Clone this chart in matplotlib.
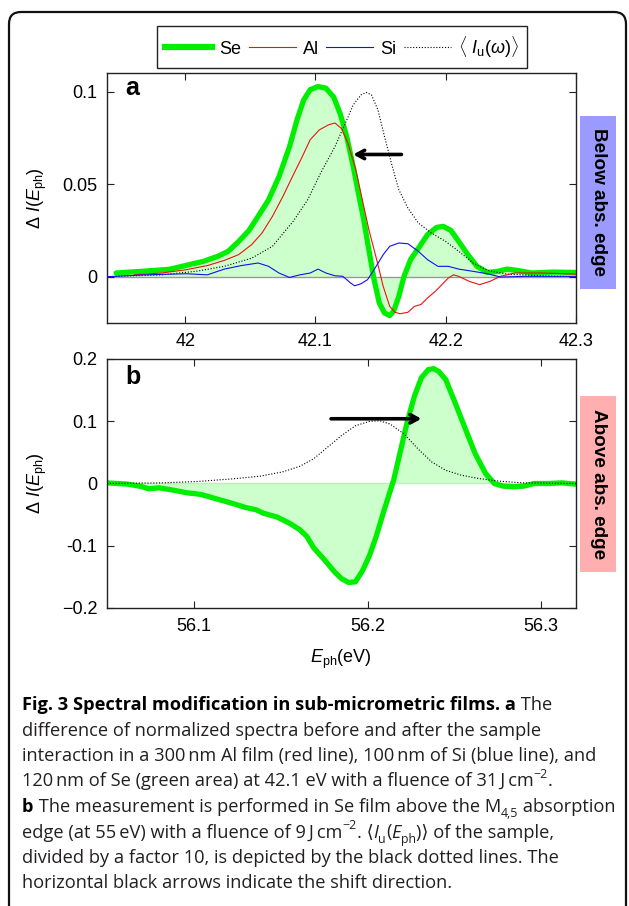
import matplotlib
matplotlib.use('Agg')
import matplotlib.pyplot as plt
from matplotlib.patches import FancyBboxPatch, Rectangle
from matplotlib.lines import Line2D
from matplotlib.transforms import IdentityTransform

plt.rcParams['font.family'] = ['Liberation Sans', 'DejaVu Sans']
plt.rcParams['mathtext.fontset'] = 'custom'
plt.rcParams['mathtext.rm'] = 'Liberation Sans'
plt.rcParams['mathtext.it'] = 'Liberation Sans:italic'
plt.rcParams['mathtext.bf'] = 'Liberation Sans:bold'

# ---------------- data: panel a (below absorption edge) ----------------
se_a_x = [41.947, 41.969, 41.988, 42.0, 42.014, 42.025, 42.033, 42.041, 42.049, 42.056,
          42.064, 42.072, 42.08, 42.086, 42.091, 42.096, 42.102, 42.108, 42.114, 42.119,
          42.124, 42.129, 42.133, 42.137, 42.141, 42.145, 42.149, 42.153, 42.157, 42.16,
          42.164, 42.168, 42.173, 42.18, 42.186, 42.193, 42.198, 42.204, 42.21, 42.217,
          42.224, 42.232, 42.24, 42.247, 42.255, 42.266, 42.282, 42.3]
se_a_y = [0.002, 0.003, 0.004, 0.006, 0.0083, 0.011, 0.0137, 0.019, 0.025, 0.0326,
          0.0415, 0.054, 0.070, 0.085, 0.0955, 0.101, 0.1027, 0.1018, 0.097, 0.088,
          0.0757, 0.0595, 0.045, 0.031, 0.0146, -0.0016, -0.0142, -0.0196, -0.021, -0.0187,
          -0.0106, 0.0002, 0.0092, 0.0164, 0.0227, 0.0266, 0.0272, 0.025, 0.019, 0.0119,
          0.0056, 0.0023, 0.0029, 0.0041, 0.0034, 0.002, 0.0025, 0.0023]

al_x = [41.961, 41.982, 42.001, 42.017, 42.03, 42.041, 42.051, 42.059, 42.067, 42.075,
        42.083, 42.09, 42.096, 42.103, 42.11, 42.115, 42.12, 42.125, 42.131, 42.136,
        42.141, 42.147, 42.152, 42.157, 42.161, 42.165, 42.171, 42.176, 42.181, 42.186,
        42.192, 42.197, 42.202, 42.206, 42.21, 42.218, 42.226, 42.234, 42.242, 42.253,
        42.274, 42.3]
al_y = [0.001, 0.002, 0.0038, 0.006, 0.0088, 0.0119, 0.0173, 0.0236, 0.0326, 0.0433,
        0.055, 0.065, 0.074, 0.0793, 0.082, 0.083, 0.080, 0.072, 0.0577, 0.0415,
        0.0254, 0.0092, -0.0052, -0.016, -0.0192, -0.020, -0.0192, -0.016, -0.015, -0.0115,
        -0.0079, -0.0043, -0.0007, 0.001, 0.0002, -0.0025, -0.0043, -0.0025, 0.0002, 0.002,
        0.002, 0.0014]

si_x = [41.94, 41.969, 42.001, 42.017, 42.03, 42.043, 42.056, 42.064, 42.072, 42.08,
        42.088, 42.096, 42.102, 42.108, 42.115, 42.121, 42.127, 42.13, 42.135, 42.14,
        42.145, 42.152, 42.157, 42.164, 42.171, 42.179, 42.186, 42.194, 42.202, 42.21,
        42.221, 42.232, 42.242, 42.261, 42.3]
si_y = [0.0, 0.001, 0.0016, 0.001, 0.0041, 0.006, 0.0074, 0.0056, 0.002, -0.0004,
        0.001, 0.002, 0.0041, 0.002, 0.0005, 0.0002, -0.0034, -0.0049, -0.0038, -0.0016,
        0.0038, 0.0119, 0.0164, 0.0182, 0.0178, 0.0137, 0.0092, 0.0056, 0.0056, 0.0041,
        0.0029, 0.0016, -0.0002, 0.0002, 0.0002]

iu_a_x = [41.94, 41.982, 42.009, 42.03, 42.051, 42.067, 42.083, 42.094, 42.104, 42.115,
          42.123, 42.129, 42.135, 42.139, 42.143, 42.148, 42.153, 42.159, 42.164, 42.171,
          42.179, 42.189, 42.2, 42.21, 42.221, 42.232, 42.247, 42.274, 42.3]
iu_a_y = [0.0, 0.001, 0.003, 0.0056, 0.010, 0.0164, 0.030, 0.0415, 0.056, 0.0703,
          0.083, 0.0928, 0.0982, 0.0995, 0.0982, 0.090, 0.0757, 0.0595, 0.047, 0.037,
          0.029, 0.0236, 0.019, 0.0137, 0.0074, 0.0034, 0.0014, 0.0005, 0.0]

# ---------------- data: panel b (above absorption edge) ----------------
se_b_x = [56.05, 56.062, 56.07, 56.074, 56.08, 56.088, 56.096, 56.104, 56.112, 56.122,
          56.13, 56.136, 56.14, 56.148, 56.155, 56.161, 56.165, 56.169, 56.175, 56.181,
          56.185, 56.189, 56.193, 56.197, 56.201, 56.205, 56.209, 56.212, 56.215, 56.219,
          56.223, 56.227, 56.231, 56.235, 56.238, 56.241, 56.245, 56.25, 56.256, 56.262,
          56.268, 56.273, 56.278, 56.284, 56.29, 56.296, 56.304, 56.312, 56.32]
se_b_y = [0.001, -0.001, -0.005, -0.0085, -0.007, -0.0106, -0.0149, -0.0175, -0.0239, -0.0318,
          -0.0387, -0.0424, -0.0477, -0.054, -0.0637, -0.0743, -0.085, -0.1034, -0.122, -0.142,
          -0.1528, -0.159, -0.158, -0.1406, -0.1167, -0.0849, -0.0477, -0.0212, 0.0053, 0.053,
          0.1008, 0.1406, 0.170, 0.183, 0.1846, 0.180, 0.167, 0.1326, 0.090, 0.0477,
          0.0159, 0.0, -0.0042, -0.0053, -0.0042, 0.0, 0.0, 0.001, -0.001]

iu_b_x = [56.05, 56.082, 56.102, 56.122, 56.138, 56.151, 56.161, 56.169, 56.177, 56.185,
          56.193, 56.201, 56.207, 56.213, 56.221, 56.229, 56.237, 56.245, 56.254, 56.264,
          56.276, 56.29, 56.32]
iu_b_y = [0.0, 0.001, 0.0032, 0.0074, 0.0117, 0.0186, 0.0276, 0.0398, 0.0584, 0.0769,
          0.0928, 0.0997, 0.1008, 0.0955, 0.0796, 0.0557, 0.0345, 0.0212, 0.0133, 0.008,
          0.0037, 0.001, 0.0]

# arrows (tail, head) in data coords
arrow_a = ((42.166, 0.066), (42.129, 0.066))
arrow_b = ((56.179, 0.104), (56.231, 0.104))

# ticks
a_xticks = [42.0, 42.1, 42.2, 42.3]
a_xlabels = ['42', '42.1', '42.2', '42.3']
a_yticks = [0.0, 0.05, 0.1]
a_ylabels = ['0', '0.05', '0.1']
b_xticks = [56.1, 56.2, 56.3]
b_xlabels = ['56.1', '56.2', '56.3']
b_yticks = [-0.2, -0.1, 0.0, 0.1, 0.2]
b_ylabels = ['\u22120.2', '-0.1', '0', '0.1', '0.2']

legend_labels = ['Se', 'Al', 'Si', r'$\langle\ I_{\rm u}(\omega)\rangle$']

# ---------------- figure ----------------
W, H = 629, 906
fig = plt.figure(figsize=(W / 100, H / 100), dpi=100)


def fx(px):
    return px / W


def fy(py):
    return 1 - py / H


GREEN = '#00ee00'
FILL = '#ccffcc'
RED = '#ee1111'
BLUE = '#1111ee'
DOT = (0, (1, 1.6))

ax_a = fig.add_axes([fx(107), fy(323), (576 - 107) / W, (323 - 73) / H])
ax_b = fig.add_axes([fx(107), fy(608), (576 - 107) / W, (608 - 359) / H])

# panel a
ax_a.axhline(0, color='#999999', lw=1, zorder=1)
ax_a.fill_between(se_a_x, se_a_y, 0, color=FILL, lw=0, zorder=0.5)
ax_a.plot(se_a_x, se_a_y, color=GREEN, lw=3.8, solid_joinstyle='round',
          solid_capstyle='round', zorder=2)
ax_a.plot(iu_a_x, iu_a_y, color='k', lw=0.8, ls=DOT, zorder=3)
ax_a.plot(al_x, al_y, color=RED, lw=0.8, zorder=3)
ax_a.plot(si_x, si_y, color=BLUE, lw=0.8, zorder=3)
ax_a.set_xlim(41.94, 42.3)
ax_a.set_ylim(-0.025, 0.110)
ax_a.set_xticks(a_xticks, a_xlabels)
ax_a.set_yticks(a_yticks, a_ylabels)
ax_a.annotate('', xy=arrow_a[1], xytext=arrow_a[0],
              arrowprops=dict(arrowstyle='->,head_length=0.55,head_width=0.3',
                              lw=2.6, color='k', shrinkA=0, shrinkB=0), zorder=5)

# panel b
ax_b.fill_between(se_b_x, se_b_y, 0, color=FILL, lw=0, zorder=0.5)
ax_b.axhline(0, color='#bbeebb', lw=1, zorder=1)
ax_b.plot(se_b_x, se_b_y, color=GREEN, lw=3.8, solid_joinstyle='round',
          solid_capstyle='round', zorder=2)
ax_b.plot(iu_b_x, iu_b_y, color='k', lw=0.8, ls=DOT, zorder=3)
ax_b.set_xlim(56.05, 56.32)
ax_b.set_ylim(-0.2, 0.2)
ax_b.set_xticks(b_xticks, b_xlabels)
ax_b.set_yticks(b_yticks, b_ylabels)
ax_b.annotate('', xy=arrow_b[1], xytext=arrow_b[0],
              arrowprops=dict(arrowstyle='->,head_length=0.55,head_width=0.3',
                              lw=2.6, color='k', shrinkA=0, shrinkB=0), zorder=5)

for ax in (ax_a, ax_b):
    ax.tick_params(direction='in', top=True, right=True, length=5, width=0.8,
                   labelsize=13, pad=7, colors='#222222', labelcolor='black')
    for s in ax.spines.values():
        s.set_color('#222222')
        s.set_linewidth(1.0)

# panel letters
fig.text(fx(132), fy(88), 'a', fontsize=18, weight='bold', ha='center', va='center')
fig.text(fx(133), fy(377), 'b', fontsize=18, weight='bold', ha='center', va='center')

# y labels and x label
ylab = r'$\Delta\ I(E_{\rm ph})$'
fig.text(fx(37), fy(198), ylab, rotation=90, ha='center', va='center', fontsize=13)
fig.text(fx(37), fy(483), ylab, rotation=90, ha='center', va='center', fontsize=13)
fig.text(fx(341), fy(659), r'$E_{\rm ph}$(eV)', ha='center', va='center', fontsize=13)

# legend
handles = [Line2D([], [], color=GREEN, lw=4.5),
           Line2D([], [], color=RED, lw=0.8),
           Line2D([], [], color=BLUE, lw=0.8),
           Line2D([], [], color='k', lw=0.8, ls=DOT)]
leg = fig.legend(handles, legend_labels, loc='center', bbox_to_anchor=(fx(342), fy(47)),
                 ncol=4, frameon=True, fancybox=False, edgecolor='#222222', framealpha=1,
                 fontsize=13, handlelength=2.6, handletextpad=0.4, columnspacing=0.4,
                 borderpad=0.45, borderaxespad=0)
leg.get_frame().set_linewidth(1.0)

# side tags
fig.add_artist(Rectangle((fx(580), fy(289)), (616 - 580) / W, (289 - 116) / H,
                         transform=fig.transFigure, facecolor='#9b9bff', edgecolor='none'))
fig.text(fx(598), fy(202.5), 'Below abs. edge', rotation=-90, ha='center', va='center',
         fontsize=13.6, weight='bold')
fig.add_artist(Rectangle((fx(580), fy(572)), (616 - 580) / W, (572 - 396) / H,
                         transform=fig.transFigure, facecolor='#ffafaf', edgecolor='none'))
fig.text(fx(598), fy(484), 'Above abs. edge', rotation=-90, ha='center', va='center',
         fontsize=13.6, weight='bold')

# outer rounded border (pixel coords)
border = FancyBboxPatch((9, -20), 617, H - 12 + 20,
                        boxstyle='round,pad=0,rounding_size=12',
                        transform=IdentityTransform(), facecolor='none',
                        edgecolor='#111111', lw=1.6)
fig.add_artist(border)

# ---------------- caption ----------------
renderer = fig.canvas.get_renderer()
CAP_FAM = ['Open Sans', 'DejaVu Sans']
REG = '#231f20'


def seg_kw(size, st):
    kw = dict(family=CAP_FAM, fontsize=size * (0.68 if st.get('sub') or st.get('sup') else 1),
              weight='bold' if st.get('b') else 'normal',
              style='italic' if st.get('i') else 'normal',
              color='black' if st.get('b') else REG)
    return kw


def text_width(s, kw):
    t1 = fig.text(0, 0, s + '|', **kw)
    w1 = t1.get_window_extent(renderer).width
    t1.remove()
    t2 = fig.text(0, 0, '|', **kw)
    w2 = t2.get_window_extent(renderer).width
    t2.remove()
    return w1 - w2


def line_width(segs, size):
    return sum(text_width(s, seg_kw(size, st)) for s, st in segs)


def draw_line(segs, x0, base, size):
    x = x0
    for s, st in segs:
        kw = seg_kw(size, st)
        dy = 0
        if st.get('sub'):
            dy = -0.28 * size * 100 / 72
        if st.get('sup'):
            dy = 0.45 * size * 100 / 72
        fig.text(fx(x), 1 - (base - dy) / H, s, ha='left', va='baseline', **kw)
        x += text_width(s, kw)


N = {}
B = {'b': True}
I = {'i': True}
SUB = {'sub': True}
SUP = {'sup': True}
ts = '\u2009'

cap_lines = [
    [('Fig. 3 Spectral modification in sub-micrometric films. a', B), (' The', N)],
    [('difference of normalized spectra before and after the sample', N)],
    [('interaction in a 300' + ts + 'nm Al film (red line), 100' + ts + 'nm of Si (blue line), and', N)],
    [('120' + ts + 'nm of Se (green area) at 42.1 eV with a fluence of 31' + ts + 'J' + ts + 'cm', N),
     ('\u22122', SUP), ('.', N)],
    [('b', B), (' The measurement is performed in Se film above the M', N), ('4,5', SUB),
     (' absorption', N)],
    [('edge (at 55' + ts + 'eV) with a fluence of 9' + ts + 'J' + ts + 'cm', N), ('\u22122', SUP),
     ('. \u27e8', N), ('I', I), ('u', SUB), ('(', N), ('E', I), ('ph', SUB),
     (')\u27e9 of the sample,', N)],
    [('divided by a factor 10, is depicted by the black dotted lines. The', N)],
    [('horizontal black arrows indicate the shift direction.', N)],
]

base_size = 10.0
w_ref = max(line_width(segs, base_size) for segs in cap_lines)
cap_size = base_size * (594.0 / w_ref)

for i, segs in enumerate(cap_lines):
    draw_line(segs, 22, 710 + 25.5 * i, cap_size)

fig.savefig('out.png', dpi=100)
